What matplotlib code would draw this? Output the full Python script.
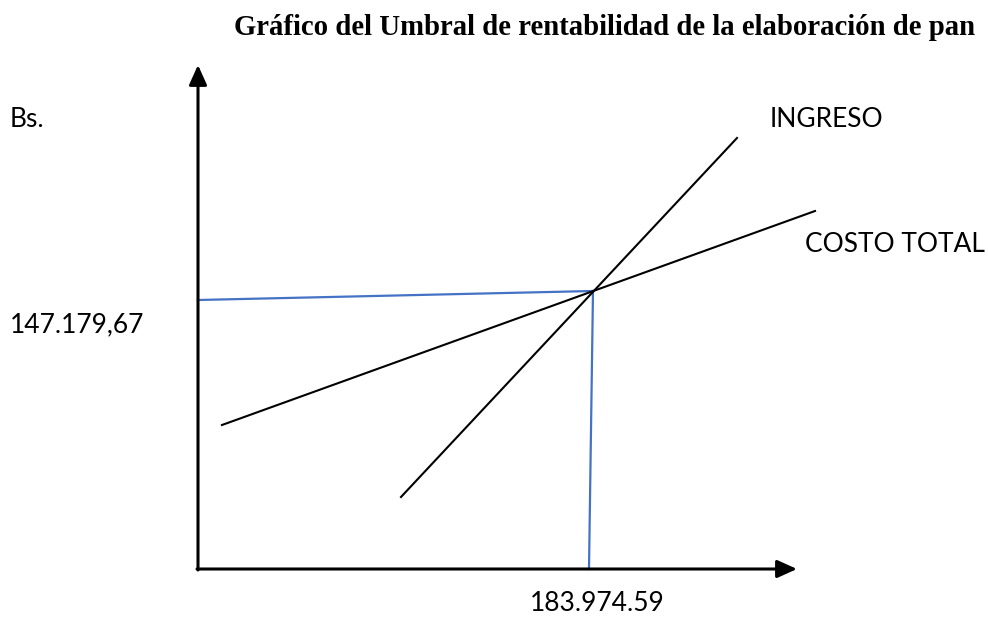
import matplotlib.pyplot as plt

# coordenadas del esquema (origen en el cruce de los ejes)
ingreso_x = [203, 539]
ingreso_y = [72, 431]
costo_x = [24, 617]
costo_y = [144, 358]
punto_eq = (395, 278)
eq_monto_x = [0, 395]
eq_monto_y = [269, 278]
eq_cant_x = [395, 391]
eq_cant_y = [278, 0]
eje_x_fin = 599
eje_y_fin = 504

etiqueta_monto = "147.179,67"
etiqueta_cant = "183.974.59"

fig = plt.figure(figsize=(9.88, 6.41), dpi=100)
ax = fig.add_axes([0, 0, 1, 1])
ax.set_xlim(-198, 790)
ax.set_ylim(-72, 569)
ax.axis('off')

flecha = dict(arrowstyle='-|>,head_length=0.6,head_width=0.27', color='black',
              lw=2.2, mutation_scale=20, shrinkA=0, shrinkB=0)
ax.annotate('', xy=(eje_x_fin, 0), xytext=(-1, 0), arrowprops=flecha)
ax.annotate('', xy=(0, eje_y_fin), xytext=(0, -1), arrowprops=flecha)

azul = '#4472C4'
ax.plot(eq_monto_x, eq_monto_y, color=azul, lw=1.6)
ax.plot(eq_cant_x, eq_cant_y, color=azul, lw=1.6)
ax.plot(ingreso_x, ingreso_y, color='black', lw=1.5)
ax.plot(costo_x, costo_y, color='black', lw=1.5)

fuente = ['Lato', 'DejaVu Sans']
ax.text(-188, 442, 'Bs.', fontsize=19, family=fuente, va='baseline')
ax.text(572, 442, 'INGRESO', fontsize=19, family=fuente, va='baseline')
ax.text(607, 317, 'COSTO TOTAL', fontsize=19, family=fuente, va='baseline')
ax.text(-188, 237, etiqueta_monto, fontsize=19, family=fuente, va='baseline')
ax.text(332, -42, etiqueta_cant, fontsize=19, family=fuente, va='baseline')

ax.text(604 - 198, 534, 'Gráfico del Umbral de rentabilidad de la elaboración de pan',
        fontsize=20.7, family=['Liberation Serif', 'DejaVu Serif'], weight='bold',
        ha='center', va='baseline')

plt.savefig('out.png', dpi=100)
